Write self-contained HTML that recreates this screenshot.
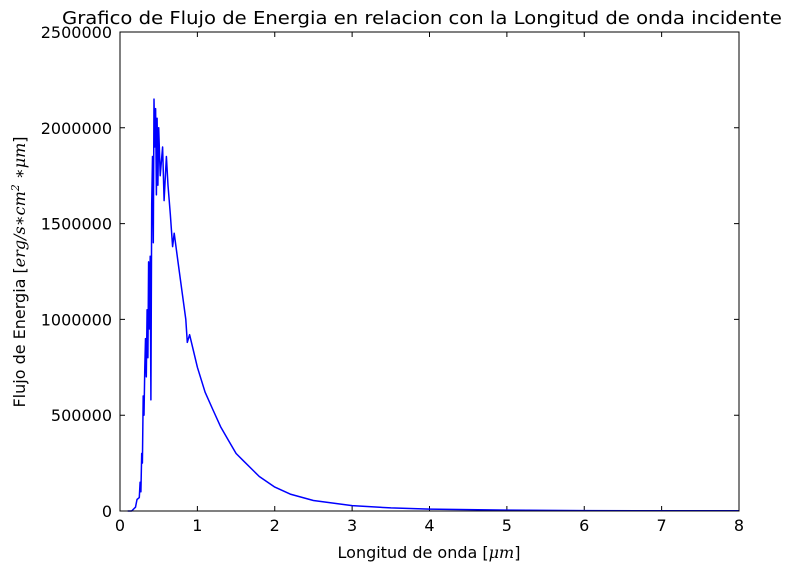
<!DOCTYPE html>
<html><head><meta charset="utf-8"><style>
body{margin:0;background:#fff;}
svg text{font-family:"DejaVu Sans","Liberation Sans",sans-serif;fill:#000;}
</style></head><body>
<svg id="chart" width="806" height="574" xmlns="http://www.w3.org/2000/svg">
<text x="422" y="24" font-size="18" text-anchor="middle" textLength="720" lengthAdjust="spacingAndGlyphs">Grafico de Flujo de Energia en relacion con la Longitud de onda incidente</text>
<g id="ticks"></g>
<path id="series" fill="none" stroke="#0000ff" stroke-width="1.5" stroke-linejoin="round"/>
<rect x="120" y="32" width="619" height="479" fill="none" stroke="#000" stroke-width="1"/>
<text x="429" y="558" font-size="16" text-anchor="middle">Longitud de onda [<tspan font-family="DejaVu Serif,serif" font-style="italic">μm</tspan>]</text>
<text transform="translate(25,272) rotate(-90)" font-size="16" text-anchor="middle">Flujo de Energia [<tspan font-family="DejaVu Serif,serif" font-style="italic">erg/s∗cm<tspan font-size="11" dy="-6">2</tspan><tspan dy="6"> ∗μm</tspan></tspan>]</text>
</svg>
<script>
const xTicks=[0,1,2,3,4,5,6,7,8];
const yTicks=[0,500000,1000000,1500000,2000000,2500000];
const wavelengths=[0.1,0.15,0.2,0.22,0.25,0.26,0.27,0.28,0.29,0.3,0.31,0.32,0.33,0.34,0.35,0.36,0.37,0.38,0.39,0.4,0.41,0.42,0.43,0.44,0.45,0.46,0.47,0.48,0.49,0.5,0.52,0.55,0.57,0.6,0.62,0.65,0.68,0.7,0.75,0.8,0.85,0.87,0.9,1.0,1.1,1.2,1.3,1.4,1.5,1.6,1.8,2.0,2.2,2.5,3.0,3.5,4,5,6,7,8];
const flux=[0,0,20000,60000,70000,150000,100000,300000,250000,600000,500000,750000,900000,700000,1050000,800000,1300000,950000,1330000,580000,1600000,1850000,1400000,2150000,1900000,2100000,1650000,2050000,1700000,2000000,1750000,1900000,1620000,1850000,1700000,1550000,1380000,1450000,1300000,1150000,1000000,880000,920000,750000,620000,530000,440000,370000,300000,260000,180000,125000,88000,55000,28000,16000,10000,4500,2300,1300,800];
const X=v=>120+v*619/8, Y=v=>511-v*479/2500000;
const g=document.getElementById('ticks');
const NS='http://www.w3.org/2000/svg';
xTicks.forEach(t=>{
 const l=document.createElementNS(NS,'path');
 l.setAttribute('d',`M${X(t)},511v-5M${X(t)},32v5`);l.setAttribute('stroke','#000');
 
 
 g.appendChild(l);
 const s=document.createElementNS(NS,'text');
 s.setAttribute('x',X(t));s.setAttribute('y',531);s.setAttribute('font-size','16');s.setAttribute('text-anchor','middle');
 
 
 s.textContent=t;g.appendChild(s);
});
yTicks.forEach(t=>{
 const l=document.createElementNS(NS,'path');
 l.setAttribute('d',`M120,${Y(t)}h5M739,${Y(t)}h-5`);l.setAttribute('stroke','#000');
 
 
 g.appendChild(l);
 const s=document.createElementNS(NS,'text');
 s.setAttribute('x',112);s.setAttribute('y',Y(t)+6);s.setAttribute('font-size','16');s.setAttribute('text-anchor','end');
 
 
 s.textContent=t;g.appendChild(s);
});
document.getElementById('series').setAttribute('d',wavelengths.map((w,i)=>(i?'L':'M')+X(w).toFixed(1)+','+Y(flux[i]).toFixed(1)).join(''));
</script>
</body></html>
